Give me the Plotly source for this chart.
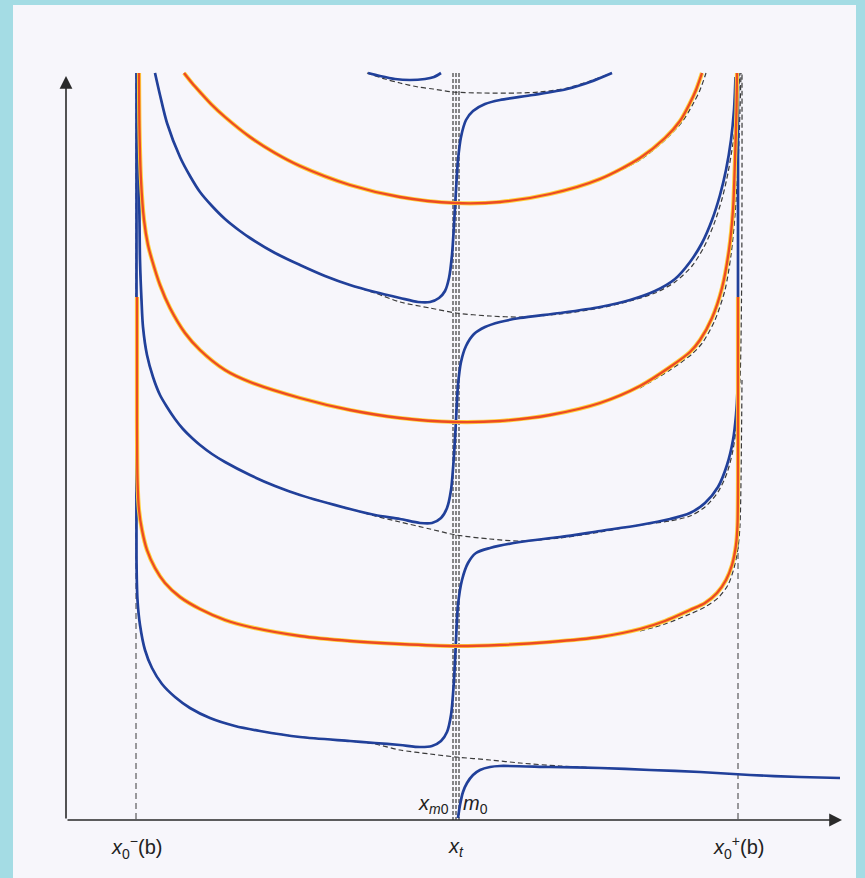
import plotly.graph_objects as go

# ---------------------------------------------------------------
# Special abscissae (screen-like units, y grows downward)
# ---------------------------------------------------------------
X0_MINUS = 136
X0_PLUS = 738
XT_LINES = [453, 456, 459]
Y_TOP = 73
Y_AXIS = 820

# ---------------------------------------------------------------
# Blue branches
# ---------------------------------------------------------------
b0_x = [368, 380, 395, 410, 425, 434, 441]
b0_y = [73, 76, 79, 80, 79, 77, 73]

b1_x = [155, 160, 167, 180, 190, 200, 212, 225, 240, 250, 275, 300, 325, 350, 375, 400,
        418, 430, 439, 445, 449, 452, 454, 456, 458, 461, 466, 473, 485, 500, 533, 567,
        590, 612]
b1_y = [73, 95, 123, 157, 176, 192, 206, 219, 231, 238, 253, 265, 276, 285, 292, 298,
        302, 302, 298, 291, 278, 255, 225, 190, 160, 137, 120, 111, 104, 100, 95, 89,
        82, 73]

b2_x = [138, 138.5, 139.5, 140, 141.5, 143, 147, 153, 160, 167, 175, 183, 192, 200, 212,
        225, 250, 275, 300, 350, 375, 400, 420, 432, 441, 447, 451, 454, 456, 458, 461,
        466, 474, 485, 500, 520, 560, 600, 630, 655, 675, 690, 702, 712, 720, 726, 731,
        734, 735.5]
b2_y = [73, 150, 220, 260, 300, 327, 355, 377, 395, 407, 419, 429, 438, 445, 454,
        462, 475, 486, 495, 509, 515, 519, 523, 523, 518, 508, 490, 455, 420, 385, 362,
        346, 334, 327, 322, 318, 313, 307, 300, 291, 279, 262, 243, 220, 195, 170, 140,
        110, 77]

b3_x = [136.5, 136.5, 136.5, 137.5, 140, 145, 152, 162, 175, 190, 210, 235, 260, 300,
        350, 375, 400, 420, 432, 441, 447, 451, 454, 456, 458, 462, 468, 476, 490, 520,
        560, 600, 640, 670, 690, 705, 718, 727, 733, 736, 737.5, 738, 738]
b3_y = [73, 300, 560, 600, 625, 650, 668, 684, 697, 708, 718, 726, 731, 737,
        741, 743, 745, 747, 746, 741, 732, 715, 680, 640, 605, 580, 563, 553, 548, 542,
        537, 531, 525, 519, 513, 503, 487, 465, 440, 415, 390, 340, 73]

b4_x = [458, 460, 463, 467, 473, 480, 490, 500, 550, 600, 650, 700, 750, 800, 840]
b4_y = [818, 805, 792, 783, 775, 770, 767, 766, 767, 768, 770, 772, 775, 777, 778]

# ---------------------------------------------------------------
# Orange levels
# ---------------------------------------------------------------
o1_x = [184, 192, 200, 212, 225, 250, 275, 300, 350, 400, 455, 500, 550, 600, 640, 665,
        680, 690, 696, 702]
o1_y = [73, 83, 92, 105, 117, 137, 153, 166, 185, 197, 203, 202, 194, 179, 158, 138,
        121, 103, 90, 73]

o2_x = [139, 139.5, 141, 144, 148, 152, 160, 170, 185, 200, 225, 250, 300, 350, 400, 455,
        500, 550, 600, 640, 670, 690, 700, 712, 722, 729, 733, 735, 736.5, 737]
o2_y = [73, 130, 180, 220, 245, 260, 285, 308, 333, 350, 370, 382, 398, 410, 418, 422,
        421, 415, 403, 386, 367, 352, 340, 318, 288, 250, 210, 160, 110, 73]

o3_x = [137, 137, 137.5, 139, 142, 147, 155, 165, 180, 200, 225, 250, 300, 350, 400, 455,
        500, 550, 600, 640, 665, 690, 705, 717, 726, 732, 736, 737.5, 738, 738]
o3_y = [297, 420, 480, 510, 530, 550, 568, 583, 597, 609, 620, 627, 636, 641, 644, 646,
        645, 642, 637, 629, 621, 610, 603, 593, 580, 565, 545, 525, 480, 297]

# ---------------------------------------------------------------
# Dashed reference curves
# ---------------------------------------------------------------
d0_x = [367, 385, 400, 418, 433, 453, 483, 517, 540, 567, 590, 612]
d0_y = [73, 79, 83, 87, 89, 92, 93, 93, 92, 88, 81, 73]

d1_x = [155, 160, 167, 180, 190, 200, 212, 225, 240, 250, 275, 300, 325, 350, 375, 400,
        430, 456, 490, 520, 560, 600, 630, 655, 675, 692, 704, 714, 722, 728, 733, 737,
        739, 740]
d1_y = [73, 95, 123, 157, 176, 192, 206, 219, 231, 238, 253, 265, 276, 285, 293, 302,
        308, 313, 316, 317, 314, 308, 301, 293, 282, 266, 247, 224, 199, 173, 143, 112,
        85, 73]

d2_x = [138, 138.5, 139.5, 140, 141.5, 143, 147, 153, 160, 167, 175, 183, 192, 200, 212,
        225, 250, 275, 300, 350, 375, 400, 430, 456, 490, 520, 560, 600, 640, 670, 690,
        705, 718, 727, 733, 737, 740, 741.5, 742, 742]
d2_y = [73, 150, 220, 260, 300, 327, 355, 377, 395, 407, 419, 429, 438, 445, 454,
        462, 475, 486, 495, 509, 516, 522, 529, 535, 539, 541, 538, 532, 525, 521, 516,
        507, 492, 473, 450, 420, 380, 300, 200, 73]

d3_x = [136.5, 136.5, 137.5, 140, 145, 152, 162, 175, 190, 210, 235, 260, 300, 350, 375,
        400, 430, 456, 490, 520, 560, 600]
d3_y = [300, 560, 600, 625, 650, 668, 684, 697, 708, 718, 726, 731, 737, 741, 744,
        750, 754, 757, 760, 763, 766, 768]

do1_x = [600, 640, 665, 682, 693, 700, 706]
do1_y = [180, 160, 140, 122, 104, 90, 73]

do2_x = [640, 670, 692, 703, 715, 725, 731, 735, 738, 740, 741]
do2_y = [388, 370, 354, 342, 320, 290, 255, 215, 165, 110, 73]

do3_x = [640, 665, 690, 705, 718, 728, 734, 738, 740, 741, 742]
do3_y = [631, 624, 614, 607, 598, 585, 568, 548, 525, 480, 380]

BLUE = "#21409a"
ORANGE = "#ec4a24"
HALO = "#ffcf3a"
DASH = "#3a3a3a"

fig = go.Figure()


def add_line(x, y, color, width, dash=None):
    fig.add_trace(go.Scatter(
        x=x, y=y, mode="lines",
        line=dict(color=color, width=width, dash=dash, shape="spline", smoothing=0.8),
        hoverinfo="skip", showlegend=False))


# dashed reference curves
for dx, dy in [(d0_x, d0_y), (d1_x, d1_y), (d2_x, d2_y), (d3_x, d3_y),
               (do1_x, do1_y), (do2_x, do2_y), (do3_x, do3_y)]:
    add_line(dx, dy, DASH, 1.2, "5px,3px")

# blue branches
for bx, by in [(b0_x, b0_y), (b1_x, b1_y), (b2_x, b2_y), (b3_x, b3_y), (b4_x, b4_y)]:
    add_line(bx, by, BLUE, 2.7)

# orange levels with a yellow rim
for ox, oy in [(o1_x, o1_y), (o2_x, o2_y), (o3_x, o3_y)]:
    add_line(ox, oy, HALO, 4.2)
    add_line(ox, oy, ORANGE, 2.3)

shapes = [
    # paper area
    dict(type="rect", xref="x", yref="y", x0=13, x1=856, y0=5, y1=878,
         fillcolor="#f7f6fb", line=dict(width=0), layer="below"),
    # vertical guides
    dict(type="line", xref="x", yref="y", x0=X0_MINUS, x1=X0_MINUS, y0=Y_TOP, y1=Y_AXIS,
         line=dict(color=DASH, width=1, dash="6px,4px"), layer="below"),
    dict(type="line", xref="x", yref="y", x0=X0_PLUS, x1=X0_PLUS, y0=Y_TOP, y1=Y_AXIS,
         line=dict(color=DASH, width=1, dash="6px,4px"), layer="below"),
]
for xv in XT_LINES:
    shapes.append(dict(type="line", xref="x", yref="y", x0=xv, x1=xv, y0=Y_TOP, y1=Y_AXIS,
                       line=dict(color=DASH, width=1.2, dash="4px,2px"), layer="below"))

annotations = [
    # axes with arrowheads
    dict(x=842, y=Y_AXIS, ax=66, ay=Y_AXIS, xref="x", yref="y", axref="x", ayref="y",
         text="", showarrow=True, arrowhead=2, arrowsize=1.6, arrowwidth=1.6, arrowcolor="#2a2a2a"),
    dict(x=66, y=76, ax=66, ay=Y_AXIS, xref="x", yref="y", axref="x", ayref="y",
         text="", showarrow=True, arrowhead=2, arrowsize=1.6, arrowwidth=1.6, arrowcolor="#2a2a2a"),
]

label_font = dict(family="Liberation Sans Narrow, Liberation Sans, Arial", size=20, color="#222")
for xv, txt in [(X0_MINUS, "<i>x</i><sub>0</sub><sup>−</sup>(b)"),
                (456, "<i>x<sub>t</sub></i>"),
                (X0_PLUS, "<i>x</i><sub>0</sub><sup>+</sup>(b)")]:
    annotations.append(dict(x=xv, y=847, xref="x", yref="y", text=txt, showarrow=False,
                            font=label_font))
annotations.append(dict(x=451, y=804, xref="x", yref="y", xanchor="right",
                        text="<i>x</i><sub><i>m</i>0</sub>", showarrow=False, font=label_font))
annotations.append(dict(x=461, y=804, xref="x", yref="y", xanchor="left",
                        text="<i>m</i><sub>0</sub>", showarrow=False, font=label_font))

fig.update_layout(
    width=865, height=878,
    margin=dict(l=0, r=0, t=0, b=0),
    paper_bgcolor="#a4dce4",
    plot_bgcolor="#a4dce4",
    xaxis=dict(range=[0, 865], visible=False, fixedrange=True),
    yaxis=dict(range=[878, 0], visible=False, fixedrange=True),
    shapes=shapes,
    annotations=annotations,
)

fig.write_html("out.html")
